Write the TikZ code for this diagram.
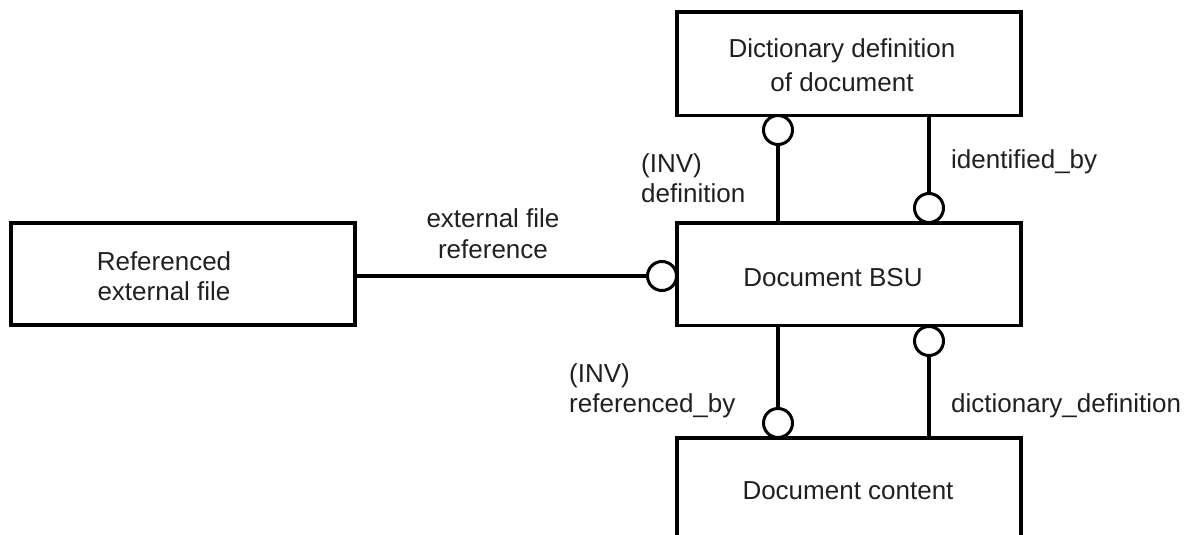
\documentclass[tikz,border=0pt]{standalone}
\usepackage{fontspec}
\setmainfont{Liberation Sans}
\definecolor{ink}{HTML}{231F20}
\begin{document}
\begin{tikzpicture}[x=1pt,y=-1pt,
  entity/.style={draw=black, line width=3.3pt, inner sep=0pt, outer sep=0pt},
  ring/.style={circle, draw=black, fill=white, line width=3pt, minimum size=29pt, inner sep=0pt, outer sep=0pt},
  conn/.style={draw=black, line width=3.3pt},
  txt/.style={text=ink, inner sep=0pt, font=\fontsize{26}{30}\selectfont},
]
\useasboundingbox (0,0) rectangle (1196,535);
\clip (0,0) rectangle (1196,535);

% entity boxes
\node[entity, minimum width=344pt, minimum height=103.5pt] (dict) at (849,63.75) {};
\node[entity, minimum width=344pt, minimum height=102.5pt] (bsu) at (849,274.25) {};
\node[entity, minimum width=344pt, minimum height=122pt] (content) at (849,499) {};
\node[entity, minimum width=344pt, minimum height=102pt] (ref) at (183,274) {};

% optionality rings
\node[ring] (r1) at (778,130) {};
\node[ring] (r2) at (929,208) {};
\node[ring] (r3) at (662,276) {};
\node[ring] (r4) at (778,423) {};
\node[ring] (r5) at (929,341) {};

% relationship lines
\draw[conn] (r1.south) -- (r1.south |- bsu.north);
\draw[conn] (r2.north) -- (r2.north |- dict.south);
\draw[conn] (ref.east |- r3) -- (r3.west);
\draw[conn] (r4.north) -- (r4.north |- bsu.south);
\draw[conn] (r5.south) -- (r5.south |- content.north);

% box texts (multi-line nodes are placed by their last baseline)
\node[txt, anchor=base, align=center, font=\fontsize{26}{33}\selectfont] (dictText) at (842,91) {Dictionary definition\\of document};
\node[txt, anchor=base] (bsuText) at (833,286) {Document BSU};
\node[txt, anchor=base] (contentText) at (848,499) {Document content};
\node[txt, anchor=base, align=center] (refText) at (164,300) {Referenced\\external file};

% relationship labels
\node[txt, anchor=base west, align=left] (invDef) at (641,202.5) {(INV)\\definition};
\node[txt, anchor=base west] (idBy) at (951,168) {identified\_by};
\node[txt, anchor=base, align=center, font=\fontsize{26}{31}\selectfont] (extRef) at (493,258) {external file\\reference};
\node[txt, anchor=base west, align=left] (invRef) at (569,412) {(INV)\\referenced\_by};
\node[txt, anchor=base west] (dictDef) at (951,412) {dictionary\_definition};
\end{tikzpicture}
\end{document}
